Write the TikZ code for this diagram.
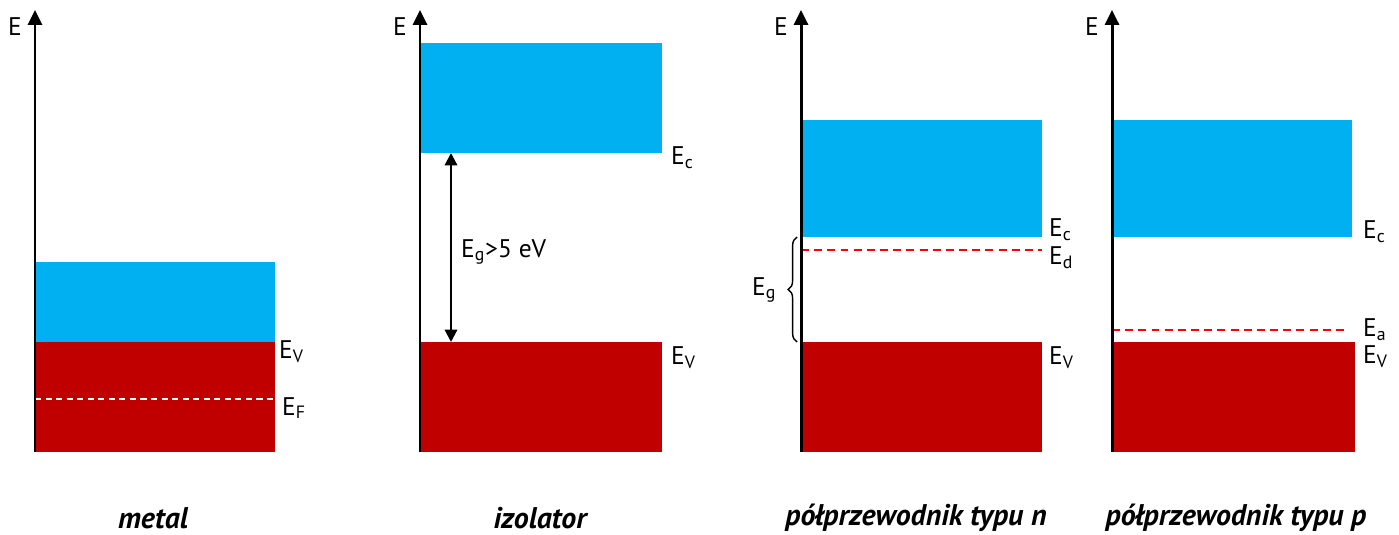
\documentclass[tikz,border=0pt]{standalone}
\usepackage{fontspec}
\setmainfont{PT Sans}
\usetikzlibrary{arrows.meta,decorations.pathreplacing}

\definecolor{cband}{HTML}{00B0F0}
\definecolor{vband}{HTML}{C00000}

\tikzset{
	axis/.style={line width=1.7pt,-{Triangle[length=8.5pt,width=8pt]}},
	gaparrow/.style={line width=1.2pt,{Triangle[length=7pt,width=7pt]}-{Triangle[length=7pt,width=7pt]}},
	lvl/.style={anchor=west,inner sep=1pt,font=\fontsize{14.5}{16}\selectfont},
	dlvl/.style={red,line width=1.1pt,dash pattern=on 4.5pt off 3pt},
	caption/.style={font=\fontsize{17}{19}\selectfont\bfseries\itshape},
}

\begin{document}
\begin{tikzpicture}[x=0.02cm,y=-0.02cm]
	\useasboundingbox (0,0) rectangle (1399,534);

	% metal
	\fill[cband] (35,262) rectangle (275,342);
	\fill[vband] (35,342) rectangle (275,452);
	\coordinate (mF0) at (35,399);
	\coordinate (mF1) at (275,399);
	\draw[white,line width=1pt,dash pattern=on 3.5pt off 2.5pt] (mF0) -- (mF1);
	\coordinate (m0) at (35,452);
	\coordinate (m1) at (35,10);
	\draw[axis] (m0) -- (m1);
	\node[lvl] (mE) at (6,27) {E};
	\node[lvl] (mEv) at (277,352) {E\textsubscript{V}};
	\node[lvl] (mEf) at (280,408) {E\textsubscript{F}};
	\node[caption] (mcap) at (153,518) {metal};

	% izolator
	\fill[cband] (420,43) rectangle (662,153);
	\fill[vband] (420,342) rectangle (662,452);
	\coordinate (i0) at (420,452);
	\coordinate (i1) at (420,10);
	\draw[axis] (i0) -- (i1);
	\coordinate (iC) at (451,153);
	\coordinate (iV) at (451,342);
	\draw[gaparrow] (iC) -- (iV);
	\node[lvl] (iE) at (391,27) {E};
	\node[lvl] (iEc) at (669,158) {E\textsubscript{c}};
	\node[lvl] (iEv) at (669,358) {E\textsubscript{V}};
	\node[lvl] (iEg) at (459,252) {E\textsubscript{g}>5 eV};
	\node[caption] (icap) at (540,518) {izolator};

	% n-type
	\fill[cband] (801,120) rectangle (1042,237);
	\fill[vband] (801,342) rectangle (1042,452);
	\coordinate (nD0) at (801,250);
	\coordinate (nD1) at (1042,250);
	\draw[dlvl] (nD0) -- (nD1);
	\coordinate (n0) at (801,452);
	\coordinate (n1) at (801,10);
	\draw[axis] (n0) -- (n1);
	\coordinate (nB0) at (797,342);
	\coordinate (nB1) at (797,237);
	\draw[thick,decorate,decoration={brace,amplitude=5pt}] (nB0) -- (nB1);
	\node[lvl] (nE) at (772,27) {E};
	\node[lvl] (nEc) at (1047,230) {E\textsubscript{c}};
	\node[lvl] (nEd) at (1047,258) {E\textsubscript{d}};
	\node[lvl] (nEv) at (1047,358) {E\textsubscript{V}};
	\node[lvl] (nEg) at (750,290) {E\textsubscript{g}};
	\node[caption] (ncap) at (916,518) {półprzewodnik typu n};

	% p-type
	\fill[cband] (1112,120) rectangle (1352,237);
	\fill[vband] (1112,342) rectangle (1355,452);
	\coordinate (pA0) at (1112,330);
	\coordinate (pA1) at (1345,330);
	\draw[dlvl] (pA0) -- (pA1);
	\coordinate (p0) at (1112,452);
	\coordinate (p1) at (1112,10);
	\draw[axis] (p0) -- (p1);
	\node[lvl] (pE) at (1083,27) {E};
	\node[lvl] (pEc) at (1361,232) {E\textsubscript{c}};
	\node[lvl] (pEa) at (1361,330) {E\textsubscript{a}};
	\node[lvl] (pEv) at (1361,357) {E\textsubscript{V}};
	\node[caption] (pcap) at (1236,518) {półprzewodnik typu p};
\end{tikzpicture}
\end{document}
